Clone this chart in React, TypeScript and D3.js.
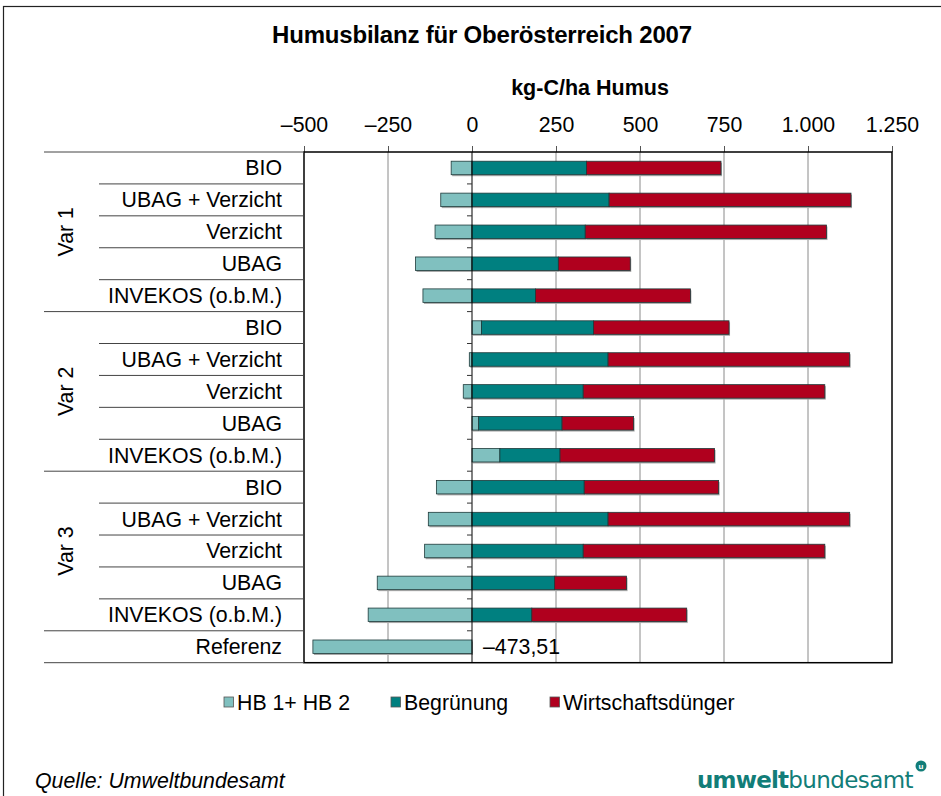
import React, { useRef, useEffect } from 'react'
import * as d3 from 'd3'

// data (kg-C/ha Humus)
const groups = ['Var 1', 'Var 2', 'Var 3']
const subCategories = ['BIO', 'UBAG + Verzicht', 'Verzicht', 'UBAG', 'INVEKOS (o.b.M.)']
const categories = [...groups.flatMap(() => subCategories), 'Referenz']

const hbValues = [-62, -93, -110, -168, -146, 28, -8, -26, 20, 83, -106, -130, -141, -282, -309, -473.51]
const begruenungValues = [341, 408, 337, 257, 189, 334, 405, 331, 248, 179, 334, 405, 331, 246, 178, 0]
const duengerValues = [400, 720, 718, 214, 461, 403, 719, 719, 213, 460, 400, 719, 719, 214, 461, 0]

const xTicks = [-500, -250, 0, 250, 500, 750, 1000, 1250]
const seriesKeys = ['hb', 'beg', 'wd']
const seriesNames = ['HB 1+ HB 2', 'Begrünung', 'Wirtschaftsdünger']
const seriesColors = ['#80c0bf', '#008080', '#b0001e']

const FONT = 'Liberation Sans, Arial, sans-serif'
const FS = 21.3

const App = () => {
	const svgRef = useRef<SVGSVGElement>(null)

	useEffect(() => {
		const svg = d3.select(svgRef.current)
		svg.selectAll('*').remove()

		const width = 941
		const height = 796
		const plot = { left: 304, right: 892, top: 152, bottom: 662.7 }

		svg.attr('width', width).attr('height', height).style('font-family', FONT)

		const rows = categories.map((c, i) => ({
			i,
			hb: hbValues[i],
			beg: begruenungValues[i],
			wd: duengerValues[i],
		}))

		const x = d3.scaleLinear().domain([-500, 1250]).range([plot.left, plot.right])
		const y = d3
			.scaleBand<number>()
			.domain(rows.map(d => d.i))
			.range([plot.top, plot.bottom])
			.paddingInner(0)
		const bw = y.bandwidth()
		const barH = 13.5

		const de = d3.formatLocale({ decimal: ',', thousands: '.', grouping: [3], currency: ['', '€'], minus: '–' })

		// outer frame
		svg
			.append('rect')
			.attr('x', 3.5)
			.attr('y', 6.5)
			.attr('width', 1000)
			.attr('height', 1000)
			.attr('fill', 'white')
			.attr('stroke', '#222')
			.attr('stroke-width', 1.2)

		// title
		svg
			.append('text')
			.attr('x', 482)
			.attr('y', 43)
			.attr('text-anchor', 'middle')
			.attr('font-size', 24)
			.attr('font-weight', 'bold')
			.attr('letter-spacing', -0.2)
			.text('Humusbilanz für Oberösterreich 2007')

		svg
			.append('text')
			.attr('x', 590)
			.attr('y', 95)
			.attr('text-anchor', 'middle')
			.attr('font-size', 21.5)
			.attr('font-weight', 'bold')
			.text('kg-C/ha Humus')

		// gridlines
		svg
			.append('g')
			.selectAll('line')
			.data(xTicks.filter(t => t !== 0 && t !== -500 && t !== 1250))
			.enter()
			.append('line')
			.attr('x1', d => x(d))
			.attr('x2', d => x(d))
			.attr('y1', plot.top)
			.attr('y2', plot.bottom)
			.attr('stroke', '#8a8a8a')
			.attr('stroke-width', 1)

		// top axis
		const xAxis = d3
			.axisTop(x)
			.tickValues(xTicks)
			.tickSize(6)
			.tickPadding(14)
			.tickFormat(d => de.format(',')(d as number))
		const gx = svg.append('g').attr('transform', `translate(0, ${plot.top})`).call(xAxis)
		gx.select('.domain').remove()
		gx.selectAll('.tick line').attr('stroke', '#555')
		gx.selectAll('.tick text').attr('font-size', FS).attr('font-family', FONT).attr('fill', '#000')

		// stacked bars
		const stack = d3
			.stack<any>()
			.keys(seriesKeys)
			.offset(d3.stackOffsetDiverging)
		const series = stack(rows)

		const barsG = svg.append('g')
		series.forEach((s, k) => {
			const g = barsG.append('g')
			// soft shadow
			g.selectAll('rect.shadow')
				.data(s.filter(d => d[1] !== d[0]))
				.enter()
				.append('rect')
				.attr('class', 'shadow')
				.attr('x', d => x(Math.min(d[0], d[1])) + 1)
				.attr('y', d => (y(d.data.i) as number) + (bw - barH) / 2 + 1.5)
				.attr('width', d => Math.abs(x(d[1]) - x(d[0])))
				.attr('height', barH)
				.attr('fill', '#a8a8a8')
			g.selectAll('rect.bar')
				.data(s.filter(d => d[1] !== d[0]))
				.enter()
				.append('rect')
				.attr('class', 'bar')
				.attr('x', d => x(Math.min(d[0], d[1])))
				.attr('y', d => (y(d.data.i) as number) + (bw - barH) / 2)
				.attr('width', d => Math.abs(x(d[1]) - x(d[0])))
				.attr('height', barH)
				.attr('fill', seriesColors[k])
				.attr('stroke', '#1e3a3a')
				.attr('stroke-width', 0.8)
		})

		// value label for Referenz
		const last = rows[rows.length - 1]
		svg
			.append('text')
			.attr('x', x(0) + 11)
			.attr('y', (y(last.i) as number) + bw / 2 + 7.5)
			.attr('font-size', FS)
			.text(de.format(',.2f')(last.hb))

		// zero axis with small ticks
		svg
			.append('line')
			.attr('x1', x(0))
			.attr('x2', x(0))
			.attr('y1', plot.top)
			.attr('y2', plot.bottom)
			.attr('stroke', '#000')
			.attr('stroke-width', 1)
		svg
			.append('g')
			.selectAll('line')
			.data(rows.slice(1))
			.enter()
			.append('line')
			.attr('x1', x(0) - 5)
			.attr('x2', x(0))
			.attr('y1', d => y(d.i) as number)
			.attr('y2', d => y(d.i) as number)
			.attr('stroke', '#333')

		// plot frame
		svg
			.append('rect')
			.attr('x', plot.left)
			.attr('y', plot.top)
			.attr('width', plot.right - plot.left)
			.attr('height', plot.bottom - plot.top)
			.attr('fill', 'none')
			.attr('stroke', '#000')
			.attr('stroke-width', 1.5)

		// category axis (two levels)
		const catG = svg.append('g')
		rows.forEach(d => {
			const top = y(d.i) as number
			const isGroupStart = d.i % subCategories.length === 0 || d.i === rows.length - 1
			catG
				.append('line')
				.attr('x1', isGroupStart ? 44 : 99)
				.attr('x2', plot.left)
				.attr('y1', top)
				.attr('y2', top)
				.attr('stroke', '#444')
			catG
				.append('text')
				.attr('x', 282)
				.attr('y', top + bw / 2 + 7.5)
				.attr('text-anchor', 'end')
				.attr('font-size', FS)
				.text(categories[d.i])
		})
		catG
			.append('line')
			.attr('x1', 44)
			.attr('x2', plot.left)
			.attr('y1', plot.bottom)
			.attr('y2', plot.bottom)
			.attr('stroke', '#444')

		groups.forEach((gName, gi) => {
			const y0 = y(gi * subCategories.length) as number
			const cy = y0 + (bw * subCategories.length) / 2
			catG
				.append('text')
				.attr('transform', `translate(73, ${cy}) rotate(-90)`)
				.attr('text-anchor', 'middle')
				.attr('font-size', FS)
				.text(gName)
		})

		// legend
		const legendX = [224, 391, 550]
		const legend = svg.append('g')
		seriesNames.forEach((name, k) => {
			legend
				.append('rect')
				.attr('x', legendX[k])
				.attr('y', 697)
				.attr('width', 9.5)
				.attr('height', 10)
				.attr('fill', seriesColors[k])
				.attr('stroke', '#555')
				.attr('stroke-width', 0.8)
			legend
				.append('text')
				.attr('x', legendX[k] + 13)
				.attr('y', 710)
				.attr('font-size', FS)
				.text(name)
		})

		// source
		svg
			.append('text')
			.attr('x', 35)
			.attr('y', 788)
			.attr('font-size', FS)
			.attr('font-style', 'italic')
			.text('Quelle: Umweltbundesamt')

		// logo text
		const logo = svg
			.append('text')
			.attr('x', 697)
			.attr('y', 788)
			.attr('font-size', 23)
			.attr('font-family', 'DejaVu Sans, sans-serif')
			.attr('fill', '#127d78')
		logo.append('tspan').attr('font-weight', 'bold').attr('letter-spacing', -0.8).text('umwelt')
		logo.append('tspan').attr('font-weight', 'normal').attr('letter-spacing', -0.6).text('bundesamt')
		svg
			.append('circle')
			.attr('cx', 921)
			.attr('cy', 766)
			.attr('r', 5.5)
			.attr('fill', '#127d78')
		svg
			.append('text')
			.attr('x', 921)
			.attr('y', 769)
			.attr('text-anchor', 'middle')
			.attr('font-size', 8)
			.attr('font-weight', 'bold')
			.attr('fill', '#fff')
			.text('u')
	}, [])

	return <svg ref={svgRef} style={{ position: 'absolute', left: 0, top: 0 }}></svg>
}

export default App
